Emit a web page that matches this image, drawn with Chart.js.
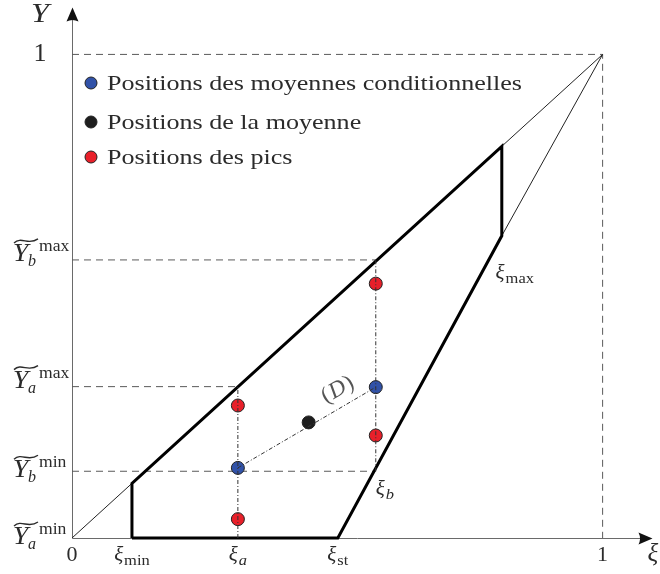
<!DOCTYPE html>
<html>
<head>
<meta charset="utf-8">
<script src="https://cdn.jsdelivr.net/npm/chart.js@4/dist/chart.umd.min.js"></script>
<style>
  html, body { margin: 0; padding: 0; background: #fff; }
  #wrap { width: 660px; height: 574px; }
</style>
</head>
<body>
<div id="wrap"><canvas id="c" width="660" height="574"></canvas></div>
<script>
// Axis ranges (data units); the ends carry the arrow heads
const X_RANGE = [0, 1.094];
const Y_RANGE = [0, 1.097];

// Characteristic abscissae
const XI_MIN = 0.113;
const XI_A = 0.3126;
const XI_ST = 0.501;
const XI_B = 0.5725;
const XI_TOP = 0.810;
const Y_AT_XI_MAX = 0.625;

// Characteristic ordinates
const Y_A_MIN = 0;
const Y_B_MIN = 0.138;
const Y_A_MAX = 0.313;
const Y_B_MAX = 0.575;

// Admissible domain outline (thick polygon)
const domainX = [XI_MIN, XI_MIN, XI_TOP, XI_TOP, XI_ST, XI_MIN];
const domainY = [0, XI_MIN, XI_TOP, Y_AT_XI_MAX, 0, 0];

// Markers
const condMeanX = [XI_A, XI_B];
const condMeanY = [0.145, 0.312];
const meanX = [0.446];
const meanY = [0.239];
const peakX = [XI_A, XI_A, XI_B, XI_B];
const peakY = [0.274, 0.039, 0.526, 0.212];

// Tick labels
const xTickValues = [0, XI_MIN, XI_A, XI_ST, 1];
const xTickMain = ['0', 'ξ', 'ξ', 'ξ', '1'];
const xTickSub = ['', 'min', 'a', 'st', ''];
const yTickValues = [1, Y_B_MAX, Y_A_MAX, Y_B_MIN, Y_A_MIN];
const yTickSup = ['', 'max', 'max', 'min', 'min'];
const yTickSub = ['', 'b', 'a', 'b', 'a'];

const legendLabels = [
  'Positions des moyennes conditionnelles',
  'Positions de la moyenne',
  'Positions des pics'
];

const COL_BLUE = '#3152a8';
const COL_BLACK = '#1e1e1e';
const COL_RED = '#e8202a';
const legendColors = [COL_BLUE, COL_BLACK, COL_RED];

const SERIF = '"Liberation Serif", "DejaVu Serif", serif';
const TEXT = '#2b2b2b';

const pts = (xs, ys) => xs.map((x, i) => ({ x, y: ys[i] }));
const seg = (x0, y0, x1, y1) => [{ x: x0, y: y0 }, { x: x1, y: y1 }];

const DASH = [7, 5];
const DASHDOT = [4, 2, 1, 2];

function lineSet(data, opts) {
  return Object.assign({
    data, showLine: true, pointRadius: 0, borderColor: '#555',
    borderWidth: 1, fill: false, clip: false, tension: 0
  }, opts);
}
function markerSet(data, color) {
  return {
    data, showLine: false, pointRadius: 6.5, pointHoverRadius: 6.5,
    backgroundColor: color, borderColor: '#222', borderWidth: 1, clip: false
  };
}

const datasets = [
  // dash-dot construction lines (drawn on top of markers)
  lineSet(seg(XI_A, 0, XI_A, Y_A_MAX), { borderDash: DASHDOT, borderColor: '#333' }),
  lineSet(seg(XI_B, Y_B_MIN, XI_B, Y_B_MAX), { borderDash: DASHDOT, borderColor: '#333' }),
  lineSet(pts(condMeanX, condMeanY), { borderDash: DASHDOT, borderColor: '#333' }),
  // markers
  markerSet(pts(condMeanX, condMeanY), COL_BLUE),
  markerSet(pts(meanX, meanY), COL_BLACK),
  markerSet(pts(peakX, peakY), COL_RED),
  // domain outline
  lineSet(pts(domainX, domainY), { borderColor: '#000', borderWidth: 3, borderJoinStyle: 'miter' }),
  // thin reference lines
  lineSet(seg(0, 0, 1, 1), { borderColor: '#222', borderWidth: 1 }),
  lineSet(seg(XI_TOP, Y_AT_XI_MAX, 1, 1), { borderColor: '#222', borderWidth: 1 }),
  // dashed guides
  lineSet([{ x: 0, y: 1 }, { x: 1, y: 1 }, { x: 1, y: 0 }], { borderDash: DASH, borderColor: '#5a5a5a' }),
  lineSet(seg(0, Y_B_MAX, XI_B, Y_B_MAX), { borderDash: DASH, borderColor: '#5a5a5a' }),
  lineSet(seg(0, Y_A_MAX, XI_A, Y_A_MAX), { borderDash: DASH, borderColor: '#5a5a5a' }),
  lineSet(seg(0, Y_B_MIN, XI_B, Y_B_MIN), { borderDash: DASH, borderColor: '#5a5a5a' })
];

// text drawn slightly widened, like a book serif face
function wideText(ctx, text, x, y, sx) {
  ctx.save();
  ctx.translate(x, y);
  ctx.scale(sx, 1);
  ctx.fillText(text, 0, 0);
  ctx.restore();
}

function drawTildeY(ctx, x0, base, sup, sub) {
  ctx.fillStyle = TEXT;
  ctx.textAlign = 'left';
  ctx.textBaseline = 'alphabetic';
  ctx.font = 'italic 25px ' + SERIF;
  wideText(ctx, 'Y', x0, base, 1.1);
  // wide tilde
  const tw = 25, ty = base - 20;
  ctx.strokeStyle = TEXT;
  ctx.lineWidth = 1.4;
  ctx.beginPath();
  ctx.moveTo(x0 + 1, ty + 2);
  ctx.bezierCurveTo(x0 + tw * 0.35, ty - 5, x0 + tw * 0.6, ty + 5, x0 + tw, ty - 2);
  ctx.stroke();
  if (sup) {
    ctx.font = '16px ' + SERIF;
    wideText(ctx, sup, x0 + 26, base - 10, 1.1);
  }
  if (sub) {
    ctx.font = 'italic 16px ' + SERIF;
    ctx.fillText(sub, x0 + 15, base + 5);
  }
}

function drawXi(ctx, cx, base, sub) {
  ctx.fillStyle = TEXT;
  ctx.textBaseline = 'alphabetic';
  ctx.textAlign = 'left';
  const subFont = (sub === 'a' || sub === 'b' ? 'italic ' : '') + '15px ' + SERIF;
  ctx.font = 'italic 21px ' + SERIF;
  const w1 = ctx.measureText('ξ').width;
  ctx.font = subFont;
  const w2 = ctx.measureText(sub).width * 1.1;
  const left = cx - (w1 + w2 + 1) / 2;
  ctx.font = 'italic 21px ' + SERIF;
  ctx.fillText('ξ', left, base);
  ctx.font = subFont;
  wideText(ctx, sub, left + w1 + 1, base + 4, 1.1);
}

const annotate = {
  id: 'annotate',
  beforeDatasetsDraw(chart) {
    const { ctx } = chart;
    const xs = chart.scales.x, ys = chart.scales.y;
    const ox = Math.round(xs.getPixelForValue(0)) + 0.5;
    const oy = Math.round(ys.getPixelForValue(0)) + 0.5;
    const xEnd = xs.getPixelForValue(X_RANGE[1]);
    const yEnd = ys.getPixelForValue(Y_RANGE[1]);
    ctx.save();
    ctx.strokeStyle = '#6a6a6a';
    ctx.lineWidth = 1;
    ctx.beginPath();
    ctx.moveTo(ox, oy); ctx.lineTo(ox, yEnd + 10);
    ctx.moveTo(ox, oy); ctx.lineTo(xEnd - 10, oy);
    ctx.stroke();
    ctx.fillStyle = '#111';
    ctx.beginPath();
    ctx.moveTo(ox, yEnd);
    ctx.lineTo(ox - 6, yEnd + 14);
    ctx.quadraticCurveTo(ox, yEnd + 11, ox + 6, yEnd + 14);
    ctx.closePath();
    ctx.fill();
    ctx.beginPath();
    ctx.moveTo(xEnd, oy);
    ctx.lineTo(xEnd - 14, oy - 6);
    ctx.quadraticCurveTo(xEnd - 11, oy, xEnd - 14, oy + 6);
    ctx.closePath();
    ctx.fill();
    ctx.restore();
  },
  afterDraw(chart) {
    const { ctx } = chart;
    const xs = chart.scales.x, ys = chart.scales.y;
    const px = v => xs.getPixelForValue(v);
    const py = v => ys.getPixelForValue(v);
    const oy = py(0);
    ctx.save();

    // axis names
    ctx.fillStyle = TEXT;
    ctx.textBaseline = 'alphabetic';
    ctx.textAlign = 'left';
    ctx.font = 'italic 28px ' + SERIF;
    wideText(ctx, 'Y', 31, 22, 1.15);
    ctx.font = 'italic 25px ' + SERIF;
    ctx.fillText('ξ', px(X_RANGE[1]) - 5, oy + 23);

    // x tick labels
    xTickValues.forEach((v, i) => {
      if (xTickSub[i]) {
        drawXi(ctx, px(v), oy + 23, xTickSub[i]);
      } else {
        ctx.font = '22px ' + SERIF;
        ctx.textAlign = 'center';
        ctx.fillStyle = TEXT;
        ctx.fillText(xTickMain[i], px(v), oy + 23);
      }
    });

    // y tick labels
    yTickValues.forEach((v, i) => {
      const y = py(v);
      if (!yTickSup[i]) {
        ctx.font = '26px ' + SERIF;
        ctx.textAlign = 'center';
        ctx.fillStyle = TEXT;
        ctx.fillText('1', 40, y + 7);
      } else {
        const base = y + (yTickSup[i] === 'min' ? 6 : 1);
        drawTildeY(ctx, 13, base, yTickSup[i], yTickSub[i]);
      }
    });

    // point labels on the domain boundary
    drawXi(ctx, px(XI_B) + 9, py(Y_B_MIN) + 24, 'b');
    drawXi(ctx, px(XI_TOP) + 13, py(Y_AT_XI_MAX) + 43, 'max');

    // line label (D)
    const mx = px(0.5), my = py(0.308);
    ctx.translate(mx, my);
    ctx.rotate(-0.52);
    ctx.fillStyle = '#555';
    ctx.textAlign = 'left';
    ctx.font = '23px ' + SERIF;
    const wp = ctx.measureText('(').width;
    ctx.font = 'italic 23px ' + SERIF;
    const wd = ctx.measureText('D').width;
    const x = -(2 * wp + wd + 2) / 2;
    ctx.font = '23px ' + SERIF;
    ctx.fillText('(', x, 7);
    ctx.font = 'italic 23px ' + SERIF;
    ctx.fillText('D', x + wp + 1, 7);
    ctx.font = '23px ' + SERIF;
    ctx.fillText(')', x + wp + wd + 2, 7);
    ctx.setTransform(1, 0, 0, 1, 0, 0);

    // legend
    const rows = [83, 122, 157];
    ctx.font = '22px ' + SERIF;
    const targetW = 415;
    const sx = targetW / ctx.measureText(legendLabels[0]).width;
    legendLabels.forEach((t, i) => {
      ctx.beginPath();
      ctx.arc(91, rows[i], 6, 0, Math.PI * 2);
      ctx.fillStyle = legendColors[i];
      ctx.fill();
      ctx.lineWidth = 1;
      ctx.strokeStyle = '#222';
      ctx.stroke();
      ctx.fillStyle = TEXT;
      ctx.font = '22px ' + SERIF;
      ctx.textAlign = 'left';
      wideText(ctx, t, 107, rows[i] + 7, sx);
    });
    ctx.restore();
  }
};

new Chart(document.getElementById('c'), {
  type: 'scatter',
  data: { datasets },
  options: {
    responsive: false,
    animation: false,
    events: [],
    layout: { padding: { left: 72, right: 7, top: 6, bottom: 36 } },
    scales: {
      x: { type: 'linear', min: X_RANGE[0], max: X_RANGE[1], display: false },
      y: { type: 'linear', min: Y_RANGE[0], max: Y_RANGE[1], display: false }
    },
    plugins: { legend: { display: false }, tooltip: { enabled: false } }
  },
  plugins: [annotate]
});
</script>
</body>
</html>
